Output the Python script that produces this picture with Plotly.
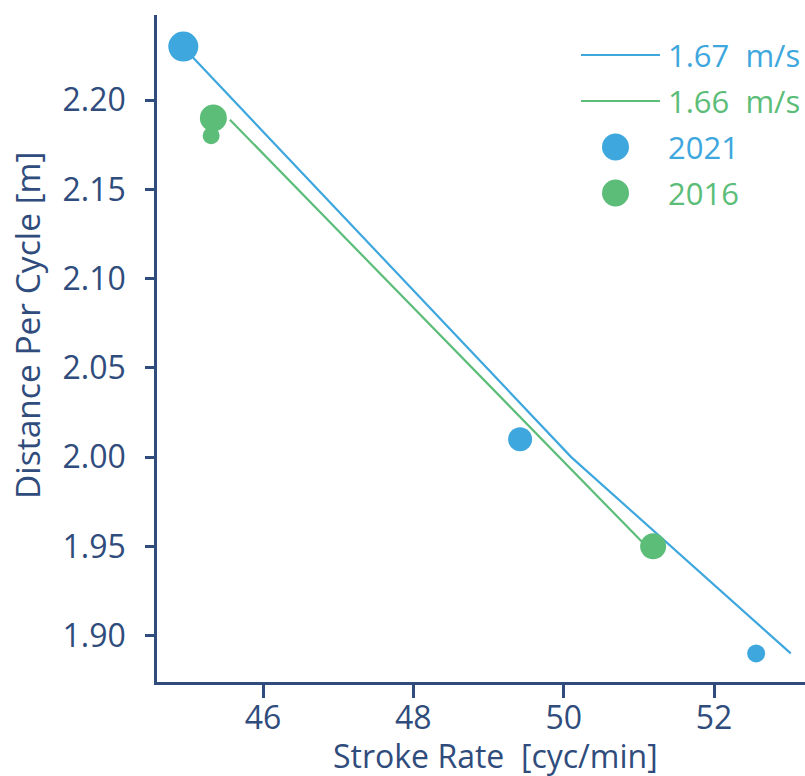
import plotly.graph_objects as go

# ---- data ----
sr_2021 = [44.94, 49.42, 52.56]
dpc_2021 = [2.23, 2.01, 1.89]
size_2021 = [30, 24, 18]

sr_2016 = [45.34, 45.31, 51.19]
dpc_2016 = [2.19, 2.18, 1.95]
size_2016 = [27, 17, 26]

# constant-speed lines
sr_line_167 = [44.93, 50.10, 53.02]
dpc_line_167 = [2.23, 2.00, 1.89]
sr_line_166 = [45.56, 51.10]
dpc_line_166 = [2.189, 1.95]

legend_labels = ["1.67  m/s", "1.66  m/s", "2021", "2016"]
x_title = "Stroke Rate  [cyc/min]"
y_title = "Distance Per Cycle [m]"
x_ticks = [46, 48, 50, 52]
y_ticks = [1.90, 1.95, 2.00, 2.05, 2.10, 2.15, 2.20]

BLUE = "#3EA7DD"
GREEN = "#5CBD79"
NAVY = "#2F4C7C"
FONT = "Open Sans"

fig = go.Figure()
fig.add_trace(go.Scatter(x=sr_line_167, y=dpc_line_167, mode="lines",
                         line=dict(color=BLUE, width=2.2), name=legend_labels[0]))
fig.add_trace(go.Scatter(x=sr_line_166, y=dpc_line_166, mode="lines",
                         line=dict(color=GREEN, width=2.2), name=legend_labels[1]))
fig.add_trace(go.Scatter(x=sr_2021, y=dpc_2021, mode="markers",
                         marker=dict(color=BLUE, size=size_2021, opacity=1, line=dict(width=0)),
                         name=legend_labels[2]))
fig.add_trace(go.Scatter(x=sr_2016, y=dpc_2016, mode="markers",
                         marker=dict(color=GREEN, size=size_2016, opacity=1, line=dict(width=0)),
                         name=legend_labels[3]))

# ---- manual legend and axis titles (paper coordinates) ----
W, H = 805, 776
ml, mr, mt, mb = 157, 0, 15, 94
pw, ph = W - ml - mr, H - mt - mb

def px(x):
    return (x - ml) / pw

def py(y):
    return 1 - (y - mt) / ph

rows = [55, 101, 147, 193]
colors = [BLUE, GREEN, BLUE, GREEN]
shapes = []
annotations = []
for i, (yy, c, lab) in enumerate(zip(rows, colors, legend_labels)):
    if i < 2:
        shapes.append(dict(type="line", xref="paper", yref="paper",
                           x0=px(581), x1=px(660), y0=py(yy), y1=py(yy),
                           line=dict(color=c, width=2.2)))
    else:
        shapes.append(dict(type="circle", xref="paper", yref="paper",
                           x0=px(602), x1=px(629), y0=py(yy + 13.5), y1=py(yy - 13.5),
                           fillcolor=c, line=dict(width=0)))
    annotations.append(dict(xref="paper", yref="paper", x=px(666), y=py(yy),
                            text=lab, showarrow=False, xanchor="left", yanchor="middle",
                            font=dict(family=FONT, size=31, color=c)))

annotations.append(dict(xref="paper", yref="paper", x=px(495), y=py(756),
                        text=x_title, showarrow=False, xanchor="center", yanchor="middle",
                        font=dict(family=FONT, size=32, color=NAVY)))
annotations.append(dict(xref="paper", yref="paper", x=px(27), y=py(325),
                        text=y_title, showarrow=False, xanchor="center", yanchor="middle",
                        textangle=-90,
                        font=dict(family=FONT, size=33.5, color=NAVY)))

fig.update_layout(
    width=W, height=H,
    margin=dict(l=ml, r=mr, t=mt, b=mb),
    paper_bgcolor="white", plot_bgcolor="white",
    showlegend=False,
    shapes=shapes, annotations=annotations,
    font=dict(family=FONT, color=NAVY, size=32),
)
fig.update_xaxes(range=[44.59, 53.21], tickvals=x_ticks, ticktext=[str(v) for v in x_ticks],
                 showgrid=False, zeroline=False, showline=True, linecolor=NAVY, linewidth=2.5,
                 ticks="outside", ticklen=13, tickwidth=2.5, tickcolor=NAVY,
                 tickfont=dict(size=32, color=NAVY), ticklabelstandoff=-7)
fig.update_yaxes(range=[1.874, 2.2477], tickvals=y_ticks, ticktext=[f"{v:.2f}" for v in y_ticks],
                 showgrid=False, zeroline=False, showline=True, linecolor=NAVY, linewidth=2.5,
                 ticks="outside", ticklen=9, tickwidth=2.5, tickcolor=NAVY,
                 tickfont=dict(size=32, color=NAVY), ticklabelstandoff=13)

fig.write_html("out.html", config={"displayModeBar": False},
               post_script="document.body.style.margin='0';document.body.style.overflow='hidden';")
